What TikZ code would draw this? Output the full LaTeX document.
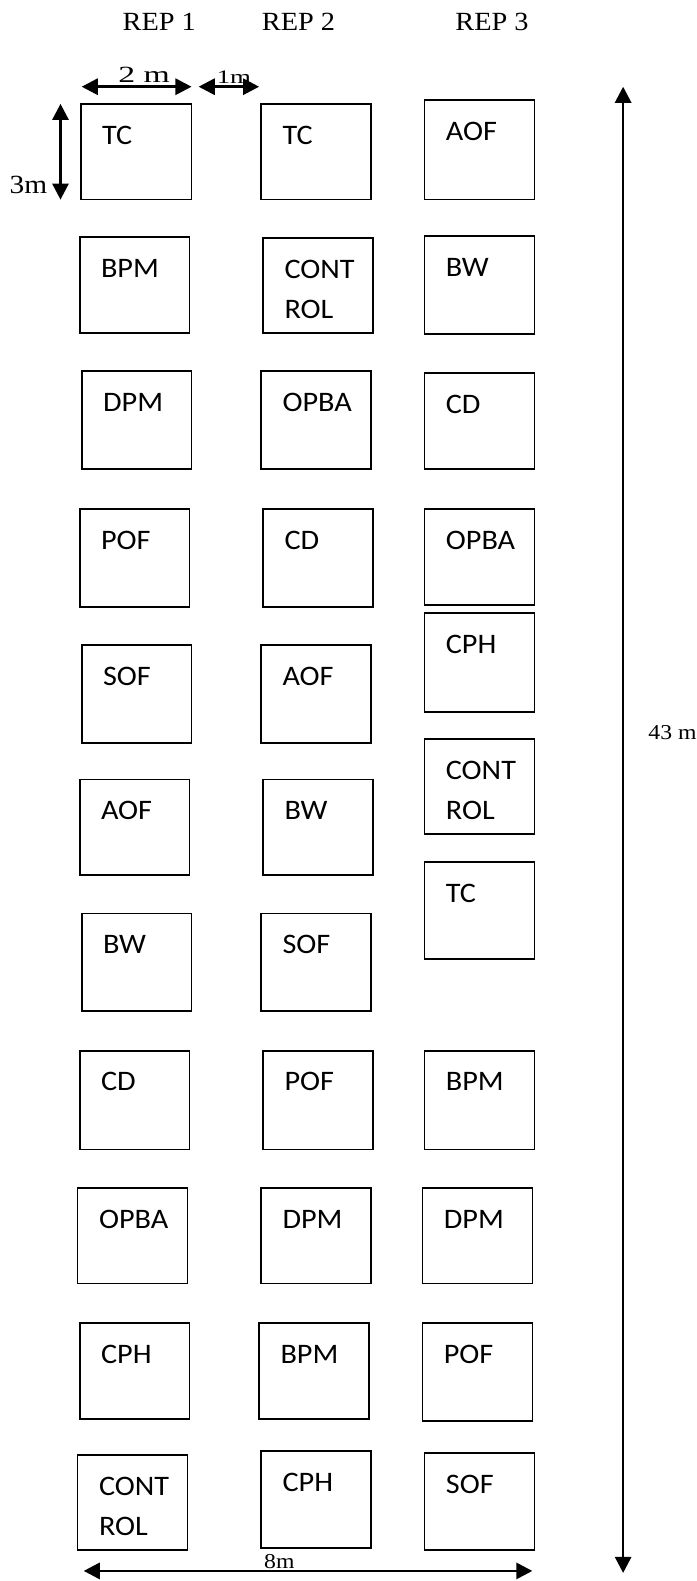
\documentclass[tikz,border=0pt]{standalone}
\usepackage{fontspec}
\setmainfont{Liberation Serif}
\newfontfamily\calib{Carlito}
\usetikzlibrary{arrows.meta}
\begin{document}
\begin{tikzpicture}[x=1pt,y=-1pt,
  plotbox/.style={draw, line width=1.7pt, inner sep=0pt, outer sep=0pt, anchor=north west},
  lbl/.style={font=\calib\fontsize{28}{32}\selectfont, inner sep=0pt, anchor=base west, xscale=1.07},
  ser/.style={font=\fontsize{26}{30}\selectfont, inner sep=0pt, xscale=1.08},
  sers/.style={font=\fontsize{21}{26}\selectfont, inner sep=0pt, xscale=1.12},
  dimarrow/.style={line width=2.7pt, {Triangle[length=16pt,width=16pt]}-{Triangle[length=16pt,width=16pt]}}]
\useasboundingbox (0,0) rectangle (691,1568);
\newcommand\pb[6]{\node[plotbox, minimum width=#4, minimum height=#5] (#1) at (#2,#3) {};
  \node[lbl] (#1t) at ([xshift=21pt,yshift=-40pt]#1.north west) {#6};}
\newcommand\pbc[5]{\node[plotbox, minimum width=#4, minimum height=#5] (#1) at (#2,#3) {};
  \node[lbl] (#1t) at ([xshift=21pt,yshift=-40pt]#1.north west) {CONT};
  \node[lbl] (#1u) at ([xshift=21pt,yshift=-80pt]#1.north west) {ROL};}
% headers
\node[ser] (rep1) at (158,22) {REP 1};
\node[ser] (rep2) at (296,22) {REP 2};
\node[ser] (rep3) at (488,22) {REP 3};
% column 1
\pb{a1}{80}{103}{110}{95}{TC}
\pb{a2}{79}{235}{109}{95}{BPM}
\pb{a3}{81}{368}{109}{97}{DPM}
\pb{a4}{79}{505}{109}{97}{POF}
\pb{a5}{81}{640}{109}{97}{SOF}
\pb{a6}{79}{773}{109}{95}{AOF}
\pb{a7}{81}{906}{109}{97}{BW}
\pb{a8}{79}{1042}{109}{98}{CD}
\pb{a9}{77}{1178}{109}{95}{OPBA}
\pb{a10}{79}{1312}{109}{95}{CPH}
\pbc{a11}{77}{1443}{109}{94}
% column 2
\pb{b1}{259}{103}{109}{95}{TC}
\pbc{b2}{261}{236}{109}{94}
\pb{b3}{259}{368}{109}{97}{OPBA}
\pb{b4}{261}{505}{109}{97}{CD}
\pb{b5}{259}{640}{109}{97}{AOF}
\pb{b6}{261}{773}{109}{95}{BW}
\pb{b7}{259}{906}{109}{97}{SOF}
\pb{b8}{261}{1042}{109}{98}{POF}
\pb{b9}{259}{1178}{109}{95}{DPM}
\pb{b10}{257}{1312}{109}{95}{BPM}
\pb{b11}{259}{1439}{109}{96}{CPH}
% column 3
\pb{c1}{421}{99}{109}{99}{AOF}
\pb{c2}{421}{234}{109}{97}{BW}
\pb{c3}{421}{370}{109}{95}{CD}
\pb{c4}{421}{505}{109}{95}{OPBA}
\pb{c5}{421}{608}{109}{98}{CPH}
\pbc{c6}{421}{733}{109}{94}
\pb{c7}{421}{855}{109}{96}{TC}
\pb{c8}{421}{1042}{109}{98}{BPM}
\pb{c9}{419}{1178}{109}{95}{DPM}
\pb{c10}{419}{1312}{109}{97}{POF}
\pb{c11}{421}{1441}{109}{96}{SOF}
% dimension arrows
\coordinate (w2a) at (81,86);  \coordinate (w2b) at (190,86);
\coordinate (w1a) at (197,86); \coordinate (w1b) at (257,86);
\coordinate (h3a) at (60,103); \coordinate (h3b) at (60,198);
\coordinate (h43a) at (618,86); \coordinate (h43b) at (618,1560);
\coordinate (w8a) at (83,1558); \coordinate (w8b) at (528,1558);
\draw[dimarrow] (w2a) -- (w2b);
\draw[dimarrow] (w1a) -- (w1b);
\draw[dimarrow] (h3a) -- (h3b);
\draw[dimarrow] (h43a) -- (h43b);
\draw[dimarrow] (w8a) -- (w8b);
\node[sers, font=\fontsize{23}{26}\selectfont, xscale=1.3, anchor=base] (t2m) at (143,82) {2 m};
\node[sers, font=\fontsize{19}{24}\selectfont, xscale=1.25, anchor=base] (t1m) at (232,83) {1m};
\node[sers, font=\fontsize{26}{30}\selectfont, xscale=1.0, anchor=base east] (t3m) at (47,192) {3m};
\node[sers, anchor=base] (t43m) at (667,733) {43 m};
\node[sers, anchor=base] (t8m) at (277,1556) {8m};
\end{tikzpicture}
\end{document}
